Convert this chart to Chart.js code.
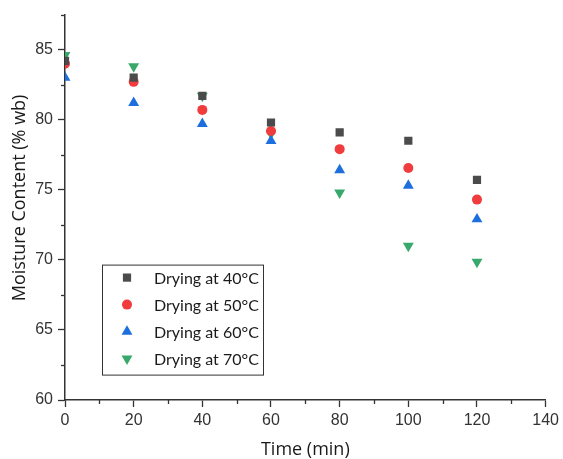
<!DOCTYPE html>
<html>
<head>
<meta charset="utf-8">
<script src="https://cdn.jsdelivr.net/npm/chart.js@4"></script>
<style>
html,body{margin:0;padding:0;background:#fff;}
#wrap{width:563px;height:459px;position:relative;}
</style>
</head>
<body>
<div id="wrap"><canvas id="c" width="563" height="459"></canvas></div>
<script>
const times = [0, 20, 40, 60, 80, 100, 120];
const seriesLabels = ['Drying at 40\u00B0C', 'Drying at 50\u00B0C', 'Drying at 60\u00B0C', 'Drying at 70\u00B0C'];
const dry40 = [84.2, 83.0, 81.7, 79.8, 79.1, 78.5, 75.7];
const dry50 = [84.0, 82.7, 80.7, 79.2, 77.9, 76.55, 74.3];
const dry60 = [83.0, 81.2, 79.7, 78.5, 76.4, 75.3, 72.9];
const dry70 = [84.6, 83.8, 81.7, 79.0, 74.8, 71.0, 69.85];
const xTicks = [0, 20, 40, 60, 80, 100, 120, 140];
const yTicks = [60, 65, 70, 75, 80, 85];

const styles = [
  {color:'#4b4b4b', pointStyle:'rect', radius:5.8, rotation:0},
  {color:'#f03c3c', pointStyle:'circle', radius:5, rotation:0},
  {color:'#1d6fde', pointStyle:'triangle', radius:6.3, rotation:0},
  {color:'#38a96a', pointStyle:'triangle', radius:6.3, rotation:180}
];
const seriesValues = [dry40, dry50, dry60, dry70];

const datasets = seriesValues.map((vals, i) => ({
  label: seriesLabels[i],
  data: times.map((t, j) => ({x: t, y: vals[j]})),
  showLine: false,
  pointStyle: styles[i].pointStyle,
  pointRadius: styles[i].radius,
  pointHoverRadius: styles[i].radius,
  pointRotation: styles[i].rotation,
  backgroundColor: styles[i].color,
  borderColor: styles[i].color,
  borderWidth: 0
}));

const minorTicks = {
  id: 'minorTicks',
  afterDraw(chart) {
    const ctx = chart.ctx;
    const xs = chart.scales.x, ys = chart.scales.y;
    ctx.save();
    ctx.strokeStyle = '#333';
    ctx.lineWidth = 1.3;
    for (let v = 10; v <= 130; v += 20) {
      const px = Math.round(xs.getPixelForValue(v)) + 0.5;
      ctx.beginPath(); ctx.moveTo(px, ys.bottom); ctx.lineTo(px, ys.bottom + 4); ctx.stroke();
    }
    for (let v = 62.5; v <= 87.5; v += 5) {
      const py = Math.round(ys.getPixelForValue(v)) + 0.5;
      ctx.beginPath(); ctx.moveTo(xs.left, py); ctx.lineTo(xs.left - 4, py); ctx.stroke();
    }
    ctx.restore();
  }
};

const boxLegend = {
  id: 'boxLegend',
  afterDraw(chart) {
    const ctx = chart.ctx;
    const area = chart.chartArea;
    const left = area.left + 37, top = area.top + 250, w = 161, h = 110;
    ctx.save();
    ctx.fillStyle = '#fff';
    ctx.fillRect(left, top, w, h);
    ctx.strokeStyle = '#333';
    ctx.lineWidth = 1;
    ctx.strokeRect(left + 0.5, top + 0.5, w, h);
    ctx.font = '16px Lato, "Open Sans", sans-serif';
    ctx.textBaseline = 'middle';
    ctx.textAlign = 'left';
    chart.data.datasets.forEach((ds, i) => {
      const cy = top + 13 + i * 27;
      const cx = left + 25;
      ctx.fillStyle = ds.backgroundColor;
      ctx.strokeStyle = ds.borderColor;
      Chart.helpers.drawPoint(ctx, {pointStyle: ds.pointStyle, radius: ds.pointRadius, rotation: ds.pointRotation, borderWidth: 0}, cx, cy);
      ctx.fillStyle = '#1a1a1a';
      ctx.fillText(ds.label, left + 52, cy + 1);
    });
    ctx.restore();
  }
};

new Chart(document.getElementById('c'), {
  type: 'scatter',
  data: {datasets},
  options: {
    responsive: false,
    animation: false,
    devicePixelRatio: 1,
    layout: {padding: {left: 0, right: 16, top: 11, bottom: 0}},
    plugins: {legend: {display: false}, tooltip: {enabled: false}},
    scales: {
      x: {
        type: 'linear', min: 0, max: 140,
        afterFit: s => { s.height = 59; },
        afterBuildTicks: s => { s.ticks = xTicks.map(v => ({value: v})); },
        ticks: {color: '#333', font: {family: 'Arial, "Liberation Sans"', size: 16}, padding: 4, maxRotation: 0},
        grid: {display: true, drawOnChartArea: false, drawTicks: true, tickLength: 7, tickColor: '#333', tickWidth: 1.3},
        border: {display: true, color: '#333', width: 1.5},
        title: {display: true, text: 'Time (min)', color: '#1a1a1a', font: {family: '"Open Sans", sans-serif', size: 18}, padding: {top: 0, bottom: -2}}
      },
      y: {
        type: 'linear', min: 60, max: 87.5,
        afterFit: s => { s.width = 65; },
        afterBuildTicks: s => { s.ticks = yTicks.map(v => ({value: v})); },
        ticks: {color: '#333', font: {family: 'Arial, "Liberation Sans"', size: 16}, padding: 5},
        grid: {display: true, drawOnChartArea: false, drawTicks: true, tickLength: 7, tickColor: '#333', tickWidth: 1.3},
        border: {display: true, color: '#333', width: 1.5},
        title: {display: true, text: '    Moisture Content (% wb)', color: '#1a1a1a', font: {family: '"Open Sans", sans-serif', size: 18}, padding: {top: 9, bottom: 0}}
      }
    }
  },
  plugins: [minorTicks, boxLegend]
});
</script>
</body>
</html>
